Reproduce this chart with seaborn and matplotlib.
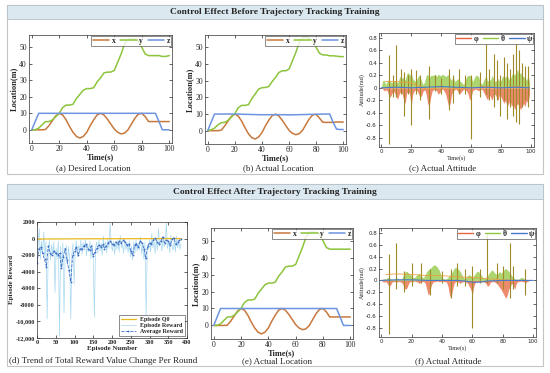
import matplotlib
matplotlib.use("Agg")
import matplotlib.pyplot as plt
from matplotlib.patches import Rectangle
from matplotlib.lines import Line2D
import pandas as pd
import seaborn as sns

sns.set_style("ticks")
plt.rcParams['font.family'] = ['Liberation Serif', 'DejaVu Serif']

# ---- location data (t every 2.5 s) ----
t_loc = [i * 2.5 for i in range(41)]
des_x = [0, 0, 0, 0, 0.2, 2.5, 5.5, 8.5, 10, 9, 6, 2, -1.5, -4, -5, -4, -1.5, 2.5, 6, 9,
         10, 9, 6.5, 3.5, 0.5, -1.5, -2.5, -2, 0, 3.5, 7, 9.5, 10, 8, 5, 5, 5, 5, 5, 5, 5]
des_y = [0, 0, 1, 3, 5, 5, 6, 8, 10, 13.5, 15, 15, 15.5, 19, 21.5, 24, 25, 25, 25.5, 29,
         31.5, 34.5, 35, 35, 36, 41, 46, 52, 55, 55, 55, 54, 50, 46, 45, 45, 45, 45, 44.5, 44.5, 45]
des_z = [0, 5] + [10] * 35 + [5, 0, 0, 0]

act1_x = [0, 0, 0, 0, 0.3, 2.8, 5.8, 8.6, 10, 8.8, 5.8, 1.8, -1.8, -4.2, -5, -3.8, -1.2, 2.8, 6.2, 9,
          10, 8.8, 6.2, 3.2, 0.2, -1.6, -2.4, -1.8, 0.3, 3.8, 7.2, 9.5, 9.8, 7.5, 5, 5, 5, 5, 5.2, 5.2, 5.2]
act1_y = [0, 0.5, 1.5, 3.5, 4.8, 5, 6.2, 8.2, 10.2, 13.8, 15.2, 15.2, 15.6, 19.2, 22, 25, 25.8, 26, 26.5, 29.5,
          32, 35, 36, 36, 37, 42, 47, 53, 56, 56, 55.5, 54, 50, 46.5, 45.5, 45.5, 45, 45, 44.8, 44.5, 44.5]
act1_z = [0, 5, 10, 10, 10, 10, 10, 10, 10, 10, 9.9, 9.8, 9.8, 9.7, 9.7, 9.6, 9.6, 9.6, 9.6, 9.6,
          9.6, 9.6, 9.6, 9.6, 9.5, 9.5, 9.6, 9.6, 9.7, 9.7, 9.8, 9.8, 9.9, 9.9, 10, 10, 10, 5, 1, 0.7, 0.7]

act2_x = [0, 0, 0, 0, 0.2, 2.6, 5.6, 8.5, 10, 9, 6, 2, -1.5, -4, -5, -4, -1.5, 2.5, 6, 9,
          10, 9, 6.5, 3.5, 0.5, -1.5, -2.5, -2, 0, 3.5, 7, 9.5, 10, 8, 5, 5, 5, 5, 5, 5, 5]
act2_y = [0, 0, 1, 3, 5, 5, 6, 8, 10, 13.5, 15, 15, 15.5, 19, 21.5, 24, 25, 25, 25.5, 29,
          31.5, 34.5, 35, 35, 36, 41, 46, 52, 55, 55, 55, 54, 50, 46, 45, 45, 45, 45, 45, 45, 45]
act2_z = [0, 5] + [10] * 35 + [5, 0, 0, 0]

# ---- attitude data (t every 1 s) ----
t_att = list(range(100))
c_theta = [0, 0.12, 0.12, 0.05, 0.1, 0.15, 0.1, 0.08, 0.1, 0.12, 0.1, 0.08, 0.15, 0.2, 0.15, 0.18, 0.12, 0.22, 0.25, 0.2,
           0.25, 0.15, 0.12, 0.1, 0.15, 0.2, 0.18, 0.1, 0.05, 0.1, 0.2, 0.22, 0.15, 0.2, 0.2, 0.2, 0.22, 0.18, 0.22, 0.2,
           0.2, 0.22, 0.2, 0.18, 0.2, 0.22, 0.15, 0.12, 0.2, 0.1, 0.12, 0.15, 0.12, 0.1, 0.08, 0.05, 0.12, 0.18, 0.2, 0.2,
           0.18, 0.1, 0.15, 0.2, 0.2, 0.18, 0.1, 0.05, 0.1, 0.15, 0.2, 0.1, 0.15, 0.12, 0.2, 0.15, 0.1, 0.12, 0.15, 0.1,
           0.12, 0.2, 0.15, 0.18, 0.2, 0.15, 0.12, 0.2, 0.25, 0.2, 0.25, 0.3, 0.2, 0.25, 0.2, 0.18, 0.15, 0.12, 0.2, 0.1]
c_phi = [0, -0.02, -0.05, -0.03, -0.05, -0.12, -0.15, -0.1, -0.05, -0.08, -0.15, -0.18, -0.1, -0.05, -0.1, -0.2, -0.25, -0.08, -0.05, -0.1,
         -0.3, -0.1, -0.05, -0.03, -0.05, -0.1, -0.15, -0.12, -0.05, -0.03, -0.1, -0.25, -0.3, -0.15, -0.05, -0.03, -0.02, -0.05, -0.1, -0.08,
         -0.03, -0.02, -0.05, -0.1, -0.2, -0.3, -0.25, -0.1, -0.05, -0.03, -0.02, -0.05, -0.1, -0.08, -0.05, -0.02, -0.03, -0.05, -0.1, -0.2,
         -0.15, -0.05, -0.03, -0.02, -0.03, -0.05, -0.03, -0.02, -0.05, -0.1, -0.15, -0.2, -0.1, -0.15, -0.2, -0.12, -0.1, -0.15, -0.2, -0.1,
         -0.15, -0.2, -0.25, -0.2, -0.3, -0.25, -0.2, -0.3, -0.25, -0.35, -0.3, -0.25, -0.3, -0.35, -0.3, -0.25, -0.3, -0.2, -0.25, -0.1]
c_spike_t = [5, 8, 10, 13, 15, 18, 20, 23, 26, 32, 36, 40, 45, 48, 52, 56, 60, 66, 70, 72, 75, 77, 79, 82, 84, 86, 88, 90, 92, 94, 96, 98]
c_spike_hi = [0.52, 0.2, 0.68, 0.3, 0.25, 0.2, 0.3, 0.28, 0.2, 0.35, 0.2, 0.15, 0.3, 0.2, 0.3, 0.2, 0.2, 0.25, 0.7, 0.3, 0.55, 0.45,
              0.2, 0.5, 0.4, 0.3, 0.55, 0.7, 0.6, 0.4, 0.35, 0.35]
c_spike_lo = [-0.9, -0.15, -0.15, -0.1, -0.45, -0.1, -0.6, -0.1, -0.2, -0.5, -0.05, -0.1, -0.35, -0.25, -0.1, -0.1, -0.82, -0.15, -0.1,
              -0.2, -0.3, -0.2, -0.45, -0.2, -0.5, -0.3, -0.45, -0.55, -0.58, -0.3, -0.2, -0.3]
c_psi_t = [0, 10, 20, 30, 40, 50, 60, 70, 80, 90, 99]
c_psi = [0, 0.01, 0.0, 0.01, 0.02, 0.01, 0.0, 0.01, 0.0, 0.01, 0.0]
c_trend_t = [3, 10, 20, 30, 40, 50, 60, 70, 80, 90, 99]
c_trend = [0.1, 0.1, 0.08, -0.02, 0.0, -0.02, 0.0, 0.02, 0.0, 0.02, 0.0]

f_theta = [0, 0.02, 0.03, 0.02, 0.05, 0.05, 0.03, 0.02, 0.02, 0.03, 0.05, 0.03, 0.02, 0.02, 0.05, 0.12, 0.15, 0.15, 0.12, 0.1,
           0.08, 0.05, 0.05, 0.08, 0.1, 0.12, 0.1, 0.05, 0.05, 0.1, 0.15, 0.18, 0.2, 0.22, 0.25, 0.26, 0.25, 0.22, 0.18, 0.12,
           0.05, 0.03, 0.02, 0.03, 0.05, 0.08, 0.12, 0.15, 0.2, 0.22, 0.2, 0.18, 0.15, 0.1, 0.05, 0.03, 0.05, 0.08, 0.1, 0.08,
           0.05, 0.08, 0.12, 0.15, 0.15, 0.12, 0.08, 0.05, 0.03, 0.05, 0.08, 0.12, 0.15, 0.18, 0.15, 0.12, 0.1, 0.12, 0.15, 0.12,
           0.15, 0.18, 0.2, 0.18, 0.15, 0.12, 0.08, 0.05, 0.03, 0.02, 0.02, 0.03, 0.05, 0.05, 0.03, 0.02, 0.01, 0.01, 0.0, 0.0]
f_phi = [0, -0.02, -0.03, -0.02, -0.05, -0.1, -0.08, -0.03, -0.02, -0.02, -0.03, -0.02, -0.02, -0.03, -0.05, -0.12, -0.15, -0.12, -0.05, -0.02,
         -0.02, -0.02, -0.01, -0.02, -0.03, -0.05, -0.03, -0.02, -0.02, -0.05, -0.15, -0.25, -0.2, -0.08, -0.03, -0.02, -0.02, -0.01, -0.02, -0.02,
         -0.01, -0.02, -0.02, -0.03, -0.1, -0.25, -0.3, -0.15, -0.05, -0.02, -0.02, -0.03, -0.05, -0.03, -0.02, -0.02, -0.03, -0.05, -0.1, -0.15,
         -0.25, -0.1, -0.03, -0.02, -0.02, -0.03, -0.02, -0.02, -0.03, -0.05, -0.1, -0.08, -0.03, -0.02, -0.02, -0.03, -0.05, -0.08, -0.12, -0.15,
         -0.2, -0.25, -0.3, -0.25, -0.15, -0.1, -0.05, -0.08, -0.15, -0.05, -0.02, -0.02, -0.01, -0.02, -0.02, -0.05, -0.02, -0.01, 0, 0]
f_spike_t = [5, 10, 15, 20, 26, 32, 40, 46, 50, 55, 60, 65, 70, 76, 80, 85, 87, 95]
f_spike_hi = [0.45, 0.62, 0.15, 0.3, 0.3, 0.2, 0.15, 0.2, 0.3, 0.2, 0.25, 0.2, 0.78, 0.3, 0.25, 0.62, 0.25, 0.2]
f_spike_lo = [-0.9, -0.15, -0.2, -0.1, -0.05, -0.25, -0.05, -0.3, -0.1, -0.1, -0.8, -0.05, -0.05, -0.05, -0.15, -0.3, -0.15, -0.25]
f_psi_t = [0, 10, 20, 30, 40, 50, 55, 60, 65, 70, 80, 90, 100]
f_psi = [0, 0.01, 0.01, 0.0, 0.0, 0.0, -0.01, -0.03, -0.03, -0.01, 0.0, 0.0, 0.0]
f_trend_t = [3, 10, 20, 30, 40, 50, 60, 70, 80, 90]
f_trend = [0.1, 0.11, 0.1, 0.08, 0.08, 0.06, 0.05, 0.03, 0.01, 0.0]

# ---- reward data ----
ep_steps = [i * 3 for i in range(129)]
ep_reward = [-2800, -600, 1200, -2500, -300, -1800, 800, -2200, -400, -9700,
             -1500, -200, -2600, -700, -1900, -400, -6500, -1200, -2400, -300,
             -11800, -900, -3600, -500, -9000, -2200, -800, -3200, -1000, -2500,
             -9700, -1800, -600, -5500, -1400, -300, -2200, -800, -1600, -200,
             -1900, -500, -1400, -100, -2100, -600, -1600, -300, -2400, -700,
             -2600, -9500, -1200, -400, -1800, -200, -1500, -600, -2000, 300,
             -1400, -400, -1700, -100, -1200, 1900, -800, -1500, -300, -1900,
             -500, -1300, -200, -1600, 400, -1100, -700, -1800, -100, -1300,
             -500, -1700, -300, -2200, -900, -2600, -400, -1800, -200, -1500,
             -600, -1400, 200, -1900, -700, -2500, -400, -9600, -800, -1300,
             -200, -1600, 600, -1100, -300, -1800, -100, -1400, 1200, -900,
             -400, -1500, 200, -1000, -500, 1900, -1200, -300, -1700, 400,
             -900, -1400, -200, -1600, 300, -1100, -400, -1300, -600]
avg_ep = [i * 5 for i in range(78)]
avg_reward = [-3000, -1200, -1000, -1800, -2500, -3400, -900, -1800, -2000, -1500,
              -1800, -2000, -1800, -3500, -2200, -1200, -2600, -3800, -5200, -2000,
              -1500, -1000, -2000, -1300, -1200, -900, -700, -1200, -1400, -900,
              -2100, -1600, -1100, -800, -1000, -700, -1200, -900, -500, -300,
              -600, -800, -400, -700, -300, -500, -200, -400, -800, -600,
              -1500, -2000, -800, -600, -1000, -300, -500, -1200, -2400, -900,
              -500, -600, -200, 100, -400, -600, -300, 200, -500, -200,
              -300, -800, -100, 100, -700, -400, -200, -100]
q0_ep = [0, 100, 200, 300, 385]
q0 = [-60, -30, -20, -10, 0]
reward_yticks = [-12000, -10000, -8000, -6000, -4000, -2000, 0, 2000]
reward_ylabels = ['-12,000', '-10,000', '-8000', '-6000', '-4000', '-2000', '0', '2000']

loc_colors = {'x': '#c8783c', 'y': '#8cc43c', 'z': '#6c94e0'}
phi_c, theta_c, psi_c, spike_c = '#e8643c', '#90c840', '#4a78c8', '#a08a28'

W, H = 550, 373
fig = plt.figure(figsize=(5.5, 3.73), dpi=100)


def fbox(x0, y0, x1, y1):
    return (x0 / W, 1 - y1 / H, (x1 - x0) / W, (y1 - y0) / H)


# panel frames and headers
for (y0, y1, hy1, title) in [(5, 174, 19, 'Control Effect Before Trajectory Tracking Training'),
                              (184, 366, 199, 'Control Effect After Trajectory Tracking Training')]:
    l, b, w, h = fbox(7, y0, 543, y1)
    fig.add_artist(Rectangle((l, b), w, h, transform=fig.transFigure, fill=False, ec='#c4c4c4', lw=0.8))
    l, b, w, h = fbox(7, y0, 543, hy1)
    fig.add_artist(Rectangle((l, b), w, h, transform=fig.transFigure, fc='#dbe8f0', ec='#b4c0c8', lw=0.6))
    fig.text(0.5, 1 - (y0 + hy1) / 2 / H, title, ha='center', va='center', fontsize=6.8, fontweight='bold')


def style_ax(ax, size=5.5):
    ax.tick_params(direction='in', top=True, right=True, length=2, width=0.5, labelsize=size, pad=1.5)
    for s in ax.spines.values():
        s.set_linewidth(0.5)
        s.set_color('#333333')


def plot_location(ax, xs, ys, zs, pad=0):
    df = pd.DataFrame({'t': t_loc, 'x': xs, 'y': ys, 'z': zs}).melt('t', var_name='axis', value_name='loc')
    sns.lineplot(data=df, x='t', y='loc', hue='axis', palette=loc_colors, ax=ax, linewidth=1.1)
    ax.set_xlim(-2, 102)
    ax.set_ylim(-8, 57.5)
    ax.set_xticks([0, 20, 40, 60, 80, 100])
    ax.set_yticks([0, 10, 20, 30, 40, 50])
    ax.set_xlabel('Time(s)', fontsize=6, fontweight='bold', labelpad=pad)
    ax.set_ylabel('Location(m)', fontsize=6, fontweight='bold', labelpad=1)
    style_ax(ax)
    leg = ax.legend(ncol=3, loc='upper right', handlelength=2.2, columnspacing=0.6, handletextpad=0.3,
                    prop={'size': 5.5, 'weight': 'bold'}, frameon=True, fancybox=False, borderpad=0.15,
                    borderaxespad=0.1)
    leg.get_frame().set_edgecolor('#333333')
    leg.get_frame().set_linewidth(0.5)


def plot_attitude(ax, theta, phi, sp_t, sp_hi, sp_lo, psi_t, psi, tr_t, tr):
    ax.fill_between(t_att, 0, theta, color=theta_c, alpha=0.75, lw=0)
    ax.fill_between(t_att, 0, phi, color=phi_c, alpha=0.75, lw=0)
    ax.vlines(sp_t, 0, sp_hi, color=spike_c, lw=0.8)
    ax.vlines(sp_t, sp_lo, 0, color=spike_c, lw=0.8)
    sns.lineplot(x=tr_t, y=tr, color='#e8a040', lw=0.6, ax=ax)
    sns.lineplot(x=psi_t, y=psi, color=psi_c, lw=0.8, ax=ax)
    ax.set_xlim(-1.5, 102)
    ax.set_ylim(-0.95, 0.88)
    ax.set_xticks([0, 20, 40, 60, 80, 100])
    ax.set_yticks([-0.8, -0.6, -0.4, -0.2, 0, 0.2, 0.4, 0.6, 0.8])
    ax.set_yticklabels(['-0.8', '-0.6', '-0.4', '-0.2', '0', '0.2', '0.4', '0.6', '0.8'])
    style_ax(ax, size=4)
    for lab in ax.get_xticklabels() + ax.get_yticklabels():
        lab.set_family('DejaVu Sans')
    ax.set_xlabel('Time(s)', fontsize=4.5, labelpad=1)
    ax.set_ylabel('Attitude(rad)', fontsize=4.5, labelpad=1)
    handles = [Line2D([], [], color=phi_c, lw=1), Line2D([], [], color=theta_c, lw=1), Line2D([], [], color=psi_c, lw=1)]
    leg = ax.legend(handles, ['φ', 'θ', 'ψ'], ncol=3, loc='upper right', handlelength=2, columnspacing=0.6,
                    handletextpad=0.3, prop={'size': 5.5, 'weight': 'bold'}, frameon=True, fancybox=False,
                    borderpad=0.15, borderaxespad=0.1)
    leg.get_frame().set_edgecolor('#333333')
    leg.get_frame().set_linewidth(0.5)


ax_a = fig.add_axes(fbox(29, 35, 172, 143))
plot_location(ax_a, des_x, des_y, des_z)
ax_b = fig.add_axes(fbox(205, 35, 346, 144))
plot_location(ax_b, act1_x, act1_y, act1_z)
ax_c = fig.add_axes(fbox(379, 33, 534, 147))
plot_attitude(ax_c, c_theta, c_phi, c_spike_t, c_spike_hi, c_spike_lo, c_psi_t, c_psi, c_trend_t, c_trend)

ax_d = fig.add_axes(fbox(37, 222, 187, 338))
sns.lineplot(x=ep_steps, y=ep_reward, color='#a8d8f0', lw=0.5, ax=ax_d, label='Episode Reward')
sns.lineplot(x=q0_ep, y=q0, color='#e8b820', lw=0.9, ax=ax_d, label='Episode Q0')
sns.lineplot(x=avg_ep, y=avg_reward, color='#3d6fc4', lw=0.6, linestyle='--', marker='o', markersize=1.3,
             markeredgewidth=0, ax=ax_d, label='Average Reward')
ax_d.set_xlim(0, 400)
ax_d.set_ylim(-12000, 2000)
ax_d.set_xticks(range(0, 401, 50))
ax_d.set_yticks(reward_yticks)
ax_d.set_yticklabels(reward_ylabels)
style_ax(ax_d, size=4.5)
for lab in ax_d.get_xticklabels() + ax_d.get_yticklabels():
    lab.set_fontweight('bold')
ax_d.set_xlabel('Episode Number', fontsize=5, fontweight='bold', labelpad=0.5)
ax_d.set_ylabel('Episode Reward', fontsize=5, fontweight='bold', labelpad=1)
hd, lb = ax_d.get_legend_handles_labels()
order = [1, 0, 2]
leg = ax_d.legend([hd[i] for i in order], [lb[i] for i in order], loc='lower right',
                  prop={'size': 4.3, 'weight': 'bold'}, frameon=True, fancybox=False, handlelength=2.5,
                  borderpad=0.3, labelspacing=0.2, borderaxespad=0.3)
leg.get_frame().set_edgecolor('#333333')
leg.get_frame().set_linewidth(0.5)

ax_e = fig.add_axes(fbox(211, 228, 353, 339))
plot_location(ax_e, act2_x, act2_y, act2_z, pad=0)
ax_f = fig.add_axes(fbox(379, 228, 536, 337))
plot_attitude(ax_f, f_theta, f_phi, f_spike_t, f_spike_hi, f_spike_lo, f_psi_t, f_psi, f_trend_t, f_trend)

# captions
for (cx, cy, txt) in [(93, 168, '(a) Desired Location'), (278, 168, '(b) Actual Location'),
                      (443, 168, '(c) Actual Attitude'), (103, 361, '(d) Trend of Total Reward Value Change Per Round'),
                      (277, 361, '(e) Actual Location'), (448, 361, '(f) Actual Attitude')]:
    fig.text(cx / W, 1 - cy / H, txt, ha='center', va='center', fontsize=6.5)

fig.savefig('out.png', dpi=100)
